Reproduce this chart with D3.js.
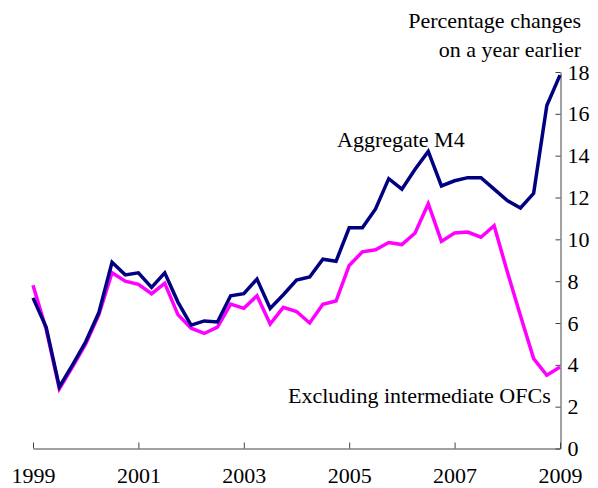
<!DOCTYPE html>
<html>
<head>
<meta charset="utf-8">
<script src="https://cdn.jsdelivr.net/npm/d3@7"></script>
<style>
  body { margin: 0; background: #fff; }
  text { font-family: "Liberation Serif", "Times New Roman", serif; fill: #000; }
</style>
</head>
<body>
<svg id="chart" width="598" height="488"></svg>
<script>
// quarterly observations, 1999 Q1 .. 2009 Q1
var startYear = 1999;
var aggregateM4 = [7.2, 5.8, 2.95, 4.0, 5.1, 6.5, 8.9, 8.3, 8.4, 7.7,
  8.4, 7.0, 5.9, 6.1, 6.05, 7.3, 7.4, 8.1, 6.7, 7.35,
  8.05, 8.2, 9.05, 8.95, 10.55, 10.55, 11.45, 12.9, 12.4, 13.35,
  14.2, 12.55, 12.8, 12.95, 12.95, 12.4, 11.85, 11.5, 12.2, 16.4, 17.85];
var exclOFCs = [7.8, 5.7, 2.85, 3.9, 5.0, 6.4, 8.4, 8.0, 7.85, 7.4,
  7.9, 6.4, 5.75, 5.5, 5.8, 6.9, 6.7, 7.3, 5.95, 6.75,
  6.55, 6.0, 6.9, 7.05, 8.75, 9.4, 9.5, 9.85, 9.75, 10.3,
  11.7, 9.9, 10.3, 10.35, 10.1, 10.65, 8.45, 6.35, 4.3, 3.5, 3.9];
var yearTicks = [1999, 2001, 2003, 2005, 2007, 2009];
var valueTicks = [0, 2, 4, 6, 8, 10, 12, 14, 16, 18];

var svg = d3.select("#chart");

var x = d3.scaleLinear().domain([1999, 2009]).range([33, 560]);
var y = d3.scaleLinear().domain([0, 18]).range([448.5, 72]);

// x axis, ticks pointing up
var xAxis = d3.axisBottom(x).tickValues(yearTicks).tickSizeInner(-6).tickSizeOuter(0)
  .tickFormat(d3.format("d"));
var gx = svg.append("g").attr("transform", "translate(0,448.5)").call(xAxis);
gx.select(".domain").attr("stroke", "#444");
gx.selectAll(".tick line").attr("stroke", "#444");
gx.selectAll(".tick text").attr("y", 19).attr("dy", "0.71em")
  .style("font-size", "22px").style("font-family", "Liberation Serif");

// y axis on the right, ticks pointing left, labels right
var yAxis = d3.axisRight(y).tickValues(valueTicks).tickSizeInner(-5).tickSizeOuter(0);
var gy = svg.append("g").attr("transform", "translate(560.5,0)").call(yAxis);
gy.select(".domain").attr("stroke", "#444");
gy.selectAll(".tick line").attr("stroke", "#444");
gy.selectAll(".tick text").attr("x", 7)
  .style("font-size", "22px").style("font-family", "Liberation Serif");

var line = d3.line()
  .x(function(d, i) { return x(startYear + i / 4); })
  .y(function(d) { return y(d); });

svg.append("path").datum(exclOFCs)
  .attr("d", line).attr("fill", "none")
  .attr("stroke", "#ff00ff").attr("stroke-width", 3.5).attr("stroke-linejoin", "miter");

svg.append("path").datum(aggregateM4)
  .attr("d", line).attr("fill", "none")
  .attr("stroke", "#000080").attr("stroke-width", 3.5).attr("stroke-linejoin", "miter");

// labels
var labels = [
  { t: "Percentage changes", x: 581, y: 28, a: "end" },
  { t: "on a year earlier", x: 581, y: 57, a: "end" },
  { t: "Aggregate M4", x: 337, y: 147, a: "start" },
  { t: "Excluding intermediate OFCs", x: 288, y: 403, a: "start" }
];
svg.selectAll(".lbl").data(labels).enter().append("text")
  .attr("class", "lbl")
  .attr("x", function(d) { return d.x; })
  .attr("y", function(d) { return d.y; })
  .attr("text-anchor", function(d) { return d.a; })
  .style("font-size", "22px")
  .text(function(d) { return d.t; });
</script>
</body>
</html>
